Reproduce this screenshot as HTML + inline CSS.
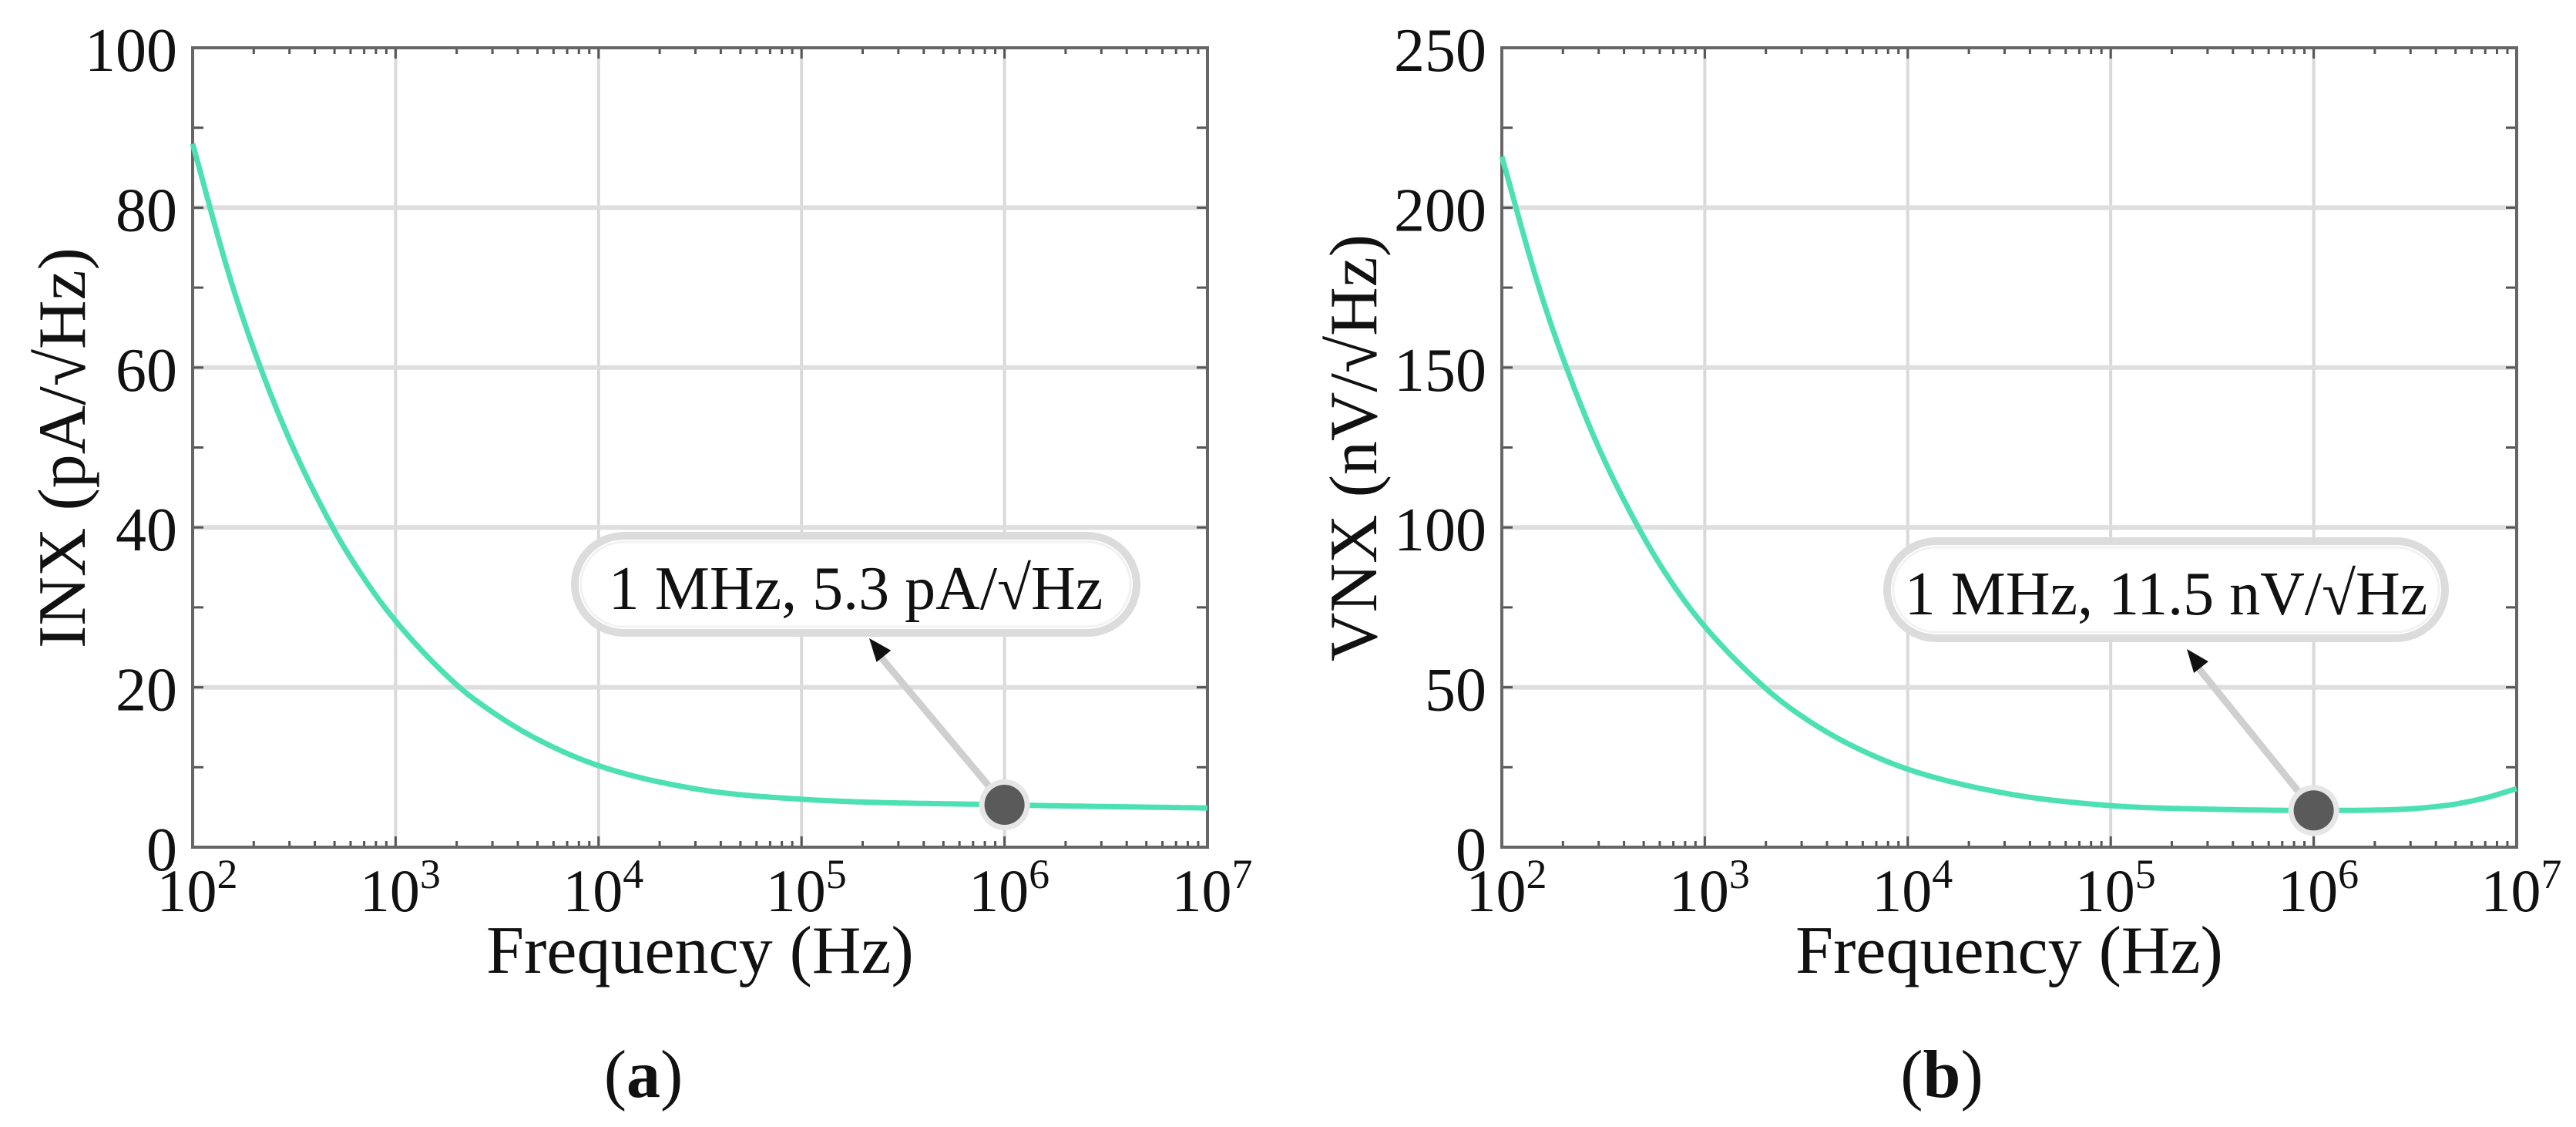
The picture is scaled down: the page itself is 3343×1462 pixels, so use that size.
<!DOCTYPE html>
<html><head><meta charset="utf-8"><style>
html,body{margin:0;padding:0;background:#fff}
svg{display:block}
text{font-family:"Liberation Serif",serif;fill:#111}
</style></head><body>
<svg id="fig" width="3343" height="1462" viewBox="0 0 3343 1462" xmlns="http://www.w3.org/2000/svg"></svg>
<script>
// ---- data ----
const inxFreq = [100,150,200,300,500,700,1000,2000,3000,5000,10000,30000,100000,1000000,10000000];
const inxVals = [88,71.9,62.3,51,39.6,33.6,28.3,20.3,16.9,13.5,10.2,7.3,6.0,5.3,4.9];
const vnxFreq = [100,150,200,300,500,700,1000,2000,3000,5000,10000,30000,100000,300000,1000000,2000000,3000000,4000000,5000000,7000000,10000000];
const vnxVals = [216,176.5,153,125,97,82,69,49.6,41,32.6,24.4,16.9,13.0,11.9,11.5,11.6,12,12.7,13.5,15.4,18.3];
const inxTicks = [0,20,40,60,80,100];
const vnxTicks = [0,50,100,150,200,250];
const decades = [2,3,4,5,6,7];
const markerF = 1000000;
const inxMarker = 5.3;
const vnxMarker = 11.5;

const NS="http://www.w3.org/2000/svg";
const svg=document.getElementById('fig');
function mk(tag,attrs,parent){const e=document.createElementNS(NS,tag);for(const k in attrs)e.setAttribute(k,attrs[k]);(parent||svg).appendChild(e);return e;}

// monotone cubic (Fritsch-Carlson) interpolation
function monotone(xs,ys){
  const n=xs.length,d=[],m=new Array(n);
  for(let i=0;i<n-1;i++)d.push((ys[i+1]-ys[i])/(xs[i+1]-xs[i]));
  m[0]=d[0];m[n-1]=d[n-2];
  for(let i=1;i<n-1;i++){m[i]=(d[i-1]*d[i]<=0)?0:(d[i-1]+d[i])/2;}
  for(let i=0;i<n-1;i++){if(d[i]===0){m[i]=0;m[i+1]=0;continue;}
    const a=m[i]/d[i],b=m[i+1]/d[i],s=a*a+b*b;if(s>9){const t=3/Math.sqrt(s);m[i]=t*a*d[i];m[i+1]=t*b*d[i];}}
  return function(x){let i=0;while(i<n-2&&x>xs[i+1])i++;
    const h=xs[i+1]-xs[i],t=(x-xs[i])/h,t2=t*t,t3=t2*t;
    return (2*t3-3*t2+1)*ys[i]+(t3-2*t2+t)*h*m[i]+(-2*t3+3*t2)*ys[i+1]+(t3-t2)*h*m[i+1];};
}

function drawPanel(o){
  const L=o.left,R=o.left+1317,T=62,B=1099;
  const g=mk('g',{});
  
  
  const xs=f=>L+(Math.log10(f)-2)/5*(R-L);
  const ys=v=>B-v/o.ymax*(B-T);
  decades.slice(1,-1).forEach(d=>{const l=mk('line',{x1:xs(Math.pow(10,d)),x2:xs(Math.pow(10,d)),y1:T,y2:B,stroke:'#d9d9d9','stroke-width':4},g);
    });
  o.ticks.slice(1,-1).forEach(v=>{const l=mk('line',{x1:L,x2:R,y1:ys(v),y2:ys(v),stroke:'#dedede','stroke-width':6},g);
    });
  for(let d=2;d<7;d++){for(let m=1;m<10;m++){const x=xs(m*Math.pow(10,d));const len=m===1?14:8;
    mk('line',{x1:x,x2:x,y1:B,y2:B-len,stroke:'#555','stroke-width':3},g);
    mk('line',{x1:x,x2:x,y1:T,y2:T+len,stroke:'#555','stroke-width':3},g);}}
  for(let i=0;i<o.ticks.length;i++){const v=o.ticks[i];
    [v,v+o.ymax/10].forEach(vv=>{if(vv>o.ymax)return;const y=ys(vv);
      mk('line',{x1:L,x2:L+14,y1:y,y2:y,stroke:'#555','stroke-width':3},g);
      mk('line',{x1:R,x2:R-14,y1:y,y2:y,stroke:'#555','stroke-width':3},g);});}
  const box=mk('rect',{x:L,y:T,width:R-L,height:B-T,fill:'none',stroke:'#666','stroke-width':4},g);
  
  o.ticks.forEach(v=>{const t=mk('text',{x:L-20,y:ys(v)+30,'text-anchor':'end','font-size':80},g);t.textContent=v;
    });
  decades.forEach(d=>{const t=mk('text',{x:xs(Math.pow(10,d))+6,y:1182,'text-anchor':'middle','font-size':78},g);
    
    const a=mk('tspan',{},t);a.textContent='10';const b=mk('tspan',{dy:-30,'font-size':54},t);b.textContent=String(d);});
  // curve: monotone cubic in log-frequency space
  const lx=o.freq.map(f=>Math.log10(f));
  const interp=monotone(lx,o.vals);
  const x0=lx[0],x1=lx[lx.length-1];
  let d='';
  for(let k=0;k<=500;k++){const u=x0+(x1-x0)*k/500;const px=xs(Math.pow(10,u)),py=ys(interp(u));
    d+=(k?' L':'M')+px.toFixed(1)+','+py.toFixed(1);}
  const c=mk('path',{d:d,fill:'none',stroke:'#4ce0b3','stroke-width':7,'stroke-linejoin':'round'},g);
  
  const mx=xs(markerF),my=ys(o.marker);
  const ar=mk('line',{x1:mx,y1:my,x2:o.tip[0]+8,y2:o.tip[1]+16,stroke:'#cfcfcf','stroke-width':9},g);
  
  const ang=Math.atan2(o.tip[1]-my,o.tip[0]-mx);
  const hx=o.tip[0],hy=o.tip[1],s=30,w=12;
  const bx=hx-s*Math.cos(ang),by=hy-s*Math.sin(ang);
  mk('polygon',{points:`${hx},${hy} ${bx+w*Math.sin(ang)},${by-w*Math.cos(ang)} ${bx-w*Math.sin(ang)},${by+w*Math.cos(ang)}`,fill:'#111'},g);
  mk('circle',{cx:mx,cy:my,r:33,fill:'#e6e6e6'},g);
  const dot=mk('circle',{cx:mx,cy:my,r:26,fill:'#5a5a5a'},g);
  
  const bb=o.bubble;
  mk('rect',{x:bb[0],y:bb[1],width:bb[2],height:bb[3],rx:64,ry:64,fill:'#fff',stroke:'#dcdcdc','stroke-width':10},g);
  mk('rect',{x:bb[0]+8,y:bb[1]+8,width:bb[2]-16,height:bb[3]-16,rx:56,ry:56,fill:'none',stroke:'#f2f2f2','stroke-width':3},g);
  const at=mk('text',{x:bb[0]+bb[2]/2,y:bb[1]+95,'text-anchor':'middle','font-size':80},g);at.textContent=o.label;
  
  const xt=mk('text',{x:(L+R)/2,y:1262,'text-anchor':'middle','font-size':88},g);xt.textContent='Frequency (Hz)';
  
  const yt=mk('text',{x:0,y:0,'text-anchor':'middle','font-size':88,transform:`translate(${o.ytx},581) rotate(-90)`},g);yt.textContent=o.ytitle;
  
  const cap=mk('text',{x:o.capx,y:1423,'text-anchor':'middle','font-size':88},g);
  
  const p1=mk('tspan',{},cap);p1.textContent='(';const p2=mk('tspan',{'font-weight':'bold'},cap);p2.textContent=o.cap;const p3=mk('tspan',{},cap);p3.textContent=')';
}
drawPanel({name:'panel-a-inx',left:250,ymax:100,ticks:inxTicks,freq:inxFreq,vals:inxVals,marker:inxMarker,curveName:'inx-curve',
  tip:[1128,828],bubble:[746,695,729,126],label:'1 MHz, 5.3 pA/√Hz',ytitle:'INX (pA/√Hz)',ytx:110,capx:835,cap:'a'});
drawPanel({name:'panel-b-vnx',left:1949,ymax:250,ticks:vnxTicks,freq:vnxFreq,vals:vnxVals,marker:vnxMarker,curveName:'vnx-curve',
  tip:[2838,842],bubble:[2449,702,724,126],label:'1 MHz, 11.5 nV/√Hz',ytitle:'VNX (nV/√Hz)',ytx:1786,capx:2520,cap:'b'});
</script>
</body></html>
